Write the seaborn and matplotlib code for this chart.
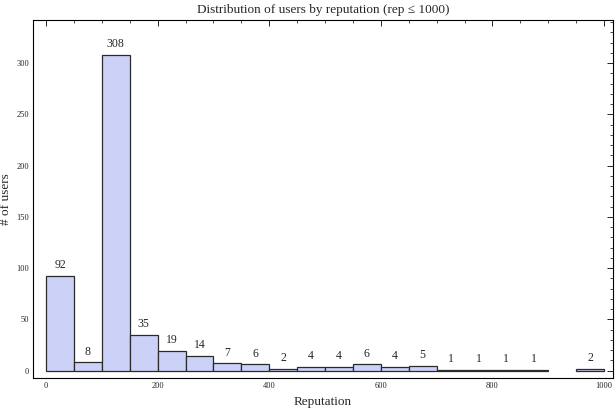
import numpy as np
import matplotlib
matplotlib.use("Agg")
import matplotlib.pyplot as plt
from matplotlib.ticker import MultipleLocator
import seaborn as sns

# histogram bins (width 50) and user counts per bin
bin_edges = list(range(0, 1050, 50))
counts = [92, 8, 308, 35, 19, 14, 7, 6, 2, 4, 4, 6, 4, 5, 1, 1, 1, 1, 0, 2]
bin_mids = [e + 25 for e in bin_edges[:-1]]

sns.set_style("white")
plt.rcParams['font.family'] = ['Liberation Serif', 'DejaVu Serif']

fig = plt.figure(figsize=(6.16, 4.08), dpi=100)
ax = fig.add_axes([0.054, 0.074, 0.941, 0.877])

sns.histplot(x=bin_mids, weights=counts, bins=bin_edges, ax=ax,
             color="#ccd2f7", alpha=1, edgecolor="#2a2a2a", linewidth=0.9)

# hide the empty bin
for p in ax.patches:
    if p.get_height() == 0:
        p.set_visible(False)

labels = [str(c) if c > 0 else "" for c in counts]
ax.bar_label(ax.containers[0], labels=labels, padding=3.5, fontsize=8.5)

ax.set_xlim(-23, 1016)
ax.set_ylim(-7, 342)
ax.xaxis.set_major_locator(MultipleLocator(200))
ax.xaxis.set_minor_locator(MultipleLocator(50))
ax.yaxis.set_major_locator(MultipleLocator(50))
ax.yaxis.set_minor_locator(MultipleLocator(10))
ax.tick_params(which='both', direction='in', top=True, right=True,
               labelsize=6, color='black', pad=3)
ax.tick_params(which='major', length=4, width=0.6)
ax.tick_params(which='minor', length=2, width=0.5)
for s in ax.spines.values():
    s.set_color('black')
    s.set_linewidth(0.8)

ax.set_xlabel("Reputation", fontsize=9.5)
ax.set_ylabel("# of users", fontsize=9.5)
ax.yaxis.set_label_coords(-0.036, 0.5)
ax.set_title("Distribution of users by reputation (rep \u2264 1000)", fontsize=9.5, pad=5)

fig.savefig("out.png", dpi=100)
